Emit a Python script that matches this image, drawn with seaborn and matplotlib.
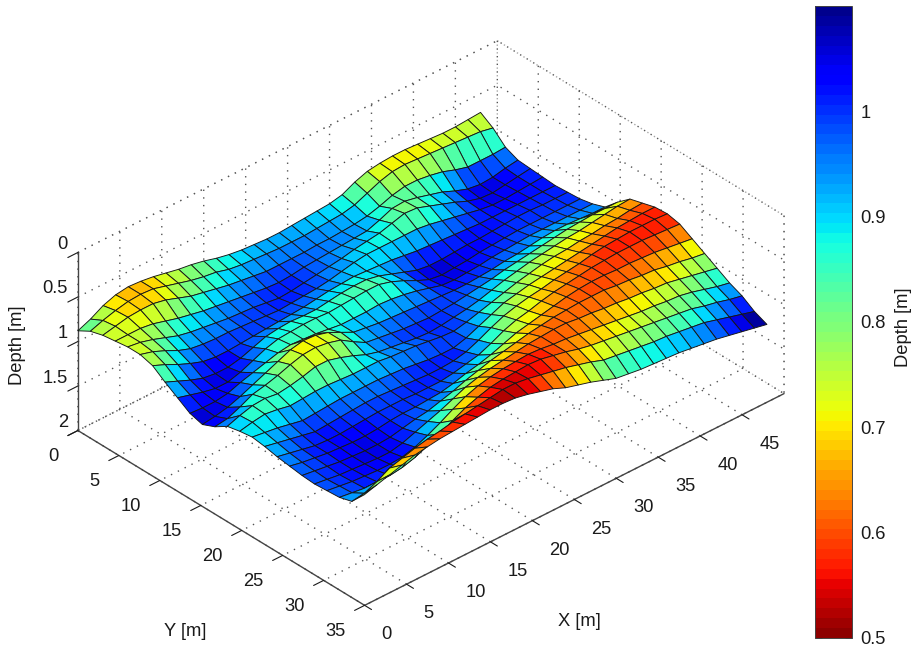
import numpy as np
import seaborn as sns
import matplotlib
matplotlib.use("Agg")
import matplotlib.pyplot as plt
from matplotlib.colors import ListedColormap, Normalize

sns.set_theme(style="white")
plt.rcParams['font.family'] = ['Liberation Sans', 'DejaVu Sans']

x_nodes = [i * 1.5 for i in range(33)]
y_nodes = [i * 1.52 for i in range(24)]
x_ticks = [0, 5, 10, 15, 20, 25, 30, 35, 40, 45]
y_ticks = [0, 5, 10, 15, 20, 25, 30, 35]
z_ticks = [0, 0.5, 1, 1.5, 2]
z_labels = ['0', '0.5', '1', '1.5', '2']
cbar_ticks = [0.5, 0.6, 0.7, 0.8, 0.9, 1.0]
cbar_labels = ['0.5', '0.6', '0.7', '0.8', '0.9', '1']

depth = [
 [.88,.82,.74,.69,.67,.68,.70,.73,.76,.78,.81,.85,.88,.90,.91,.92,.92,.91,.90,.89,.88,.85,.78,.73,.71,.70,.70,.71,.72,.73,.73,.72,.71],
 [.80,.75,.71,.68,.67,.68,.72,.76,.80,.83,.85,.89,.91,.92,.93,.94,.94,.94,.93,.92,.91,.88,.82,.76,.72,.71,.72,.73,.74,.75,.76,.77,.80],
 [.76,.73,.70,.69,.69,.72,.77,.82,.85,.88,.91,.93,.95,.97,.97,.97,.97,.96,.96,.95,.94,.92,.88,.83,.80,.80,.82,.85,.90,.94,.94,.94,.93],
 [.74,.74,.74,.76,.80,.84,.87,.90,.92,.94,.96,.98,1.00,1.01,1.00,.98,.97,.96,.95,.94,.93,.88,.82,.81,.84,.88,.92,.98,1.03,1.05,1.04,1.01,.99],
 [.72,.74,.78,.83,.88,.91,.93,.95,.97,.98,.99,1.01,1.03,1.02,1.00,.98,.96,.94,.91,.89,.87,.83,.79,.80,.85,.90,.95,1.01,1.05,1.06,1.04,1.02,1.00],
 [.72,.76,.82,.89,.94,.96,.97,.97,.98,.99,1.00,1.01,1.00,.99,.98,.96,.93,.90,.88,.88,.88,.88,.88,.90,.93,.96,.99,1.02,1.04,1.04,1.03,1.02,1.01],
 [.76,.82,.89,.95,1.00,1.02,1.02,1.01,1.00,.99,.98,.97,.96,.94,.92,.91,.90,.91,.92,.93,.95,.97,.98,.99,1.00,1.01,1.02,1.02,1.02,1.02,1.02,1.02,1.02],
 [.86,.92,.98,1.03,1.05,1.05,1.02,.97,.92,.90,.89,.90,.90,.88,.86,.85,.85,.88,.93,.98,1.03,1.05,1.05,1.04,1.03,1.03,1.02,1.01,1.00,1.00,1.01,1.01,1.01],
 [.95,.99,1.03,1.06,1.06,1.02,.96,.90,.86,.85,.84,.84,.85,.84,.83,.82,.82,.86,.92,.99,1.05,1.07,1.06,1.05,1.03,1.02,1.01,1.00,1.00,1.00,1.00,1.00,1.00],
 [1.04,1.05,1.05,1.03,.98,.94,.90,.86,.84,.85,.86,.88,.90,.90,.90,.89,.90,.92,.95,.99,1.03,1.04,1.03,1.02,1.00,.99,.98,.97,.97,.97,.97,.97,.97],
 [1.08,1.06,1.03,.98,.92,.86,.80,.74,.71,.72,.76,.83,.90,.92,.94,.95,.96,.97,.98,.99,1.00,1.00,.99,.98,.96,.95,.93,.91,.90,.90,.91,.92,.92],
 [1.02,1.00,.94,.87,.84,.80,.75,.71,.70,.72,.76,.85,.93,.95,.97,.99,1.00,1.01,1.00,.99,.97,.95,.93,.90,.88,.86,.84,.82,.80,.79,.78,.78,.78],
 [.93,.88,.84,.83,.85,.83,.80,.76,.76,.80,.85,.91,.95,.97,.99,1.01,1.02,1.01,.99,.97,.94,.90,.86,.83,.80,.78,.76,.74,.73,.71,.69,.67,.66],
 [.90,.87,.85,.87,.90,.89,.88,.88,.89,.90,.90,.90,.92,.93,.94,.96,.98,.99,.96,.92,.88,.84,.80,.77,.74,.72,.71,.69,.68,.66,.65,.63,.62],
 [.88,.90,.92,.95,.98,.97,.96,.95,.95,.95,.95,.96,.97,.99,1.01,1.02,1.02,.98,.92,.86,.80,.77,.74,.72,.70,.68,.66,.64,.62,.60,.59,.58,.58],
 [.90,.93,.96,.99,1.02,1.01,1.00,.99,.98,.98,.99,1.00,1.01,1.02,1.02,1.01,.98,.92,.85,.79,.75,.72,.70,.67,.65,.63,.60,.58,.57,.56,.56,.56,.57],
 [.93,.96,.99,1.02,1.03,1.03,1.02,1.01,1.00,1.00,1.00,1.01,1.01,1.01,.99,.96,.93,.87,.80,.75,.72,.68,.65,.63,.61,.59,.58,.57,.57,.57,.58,.59,.60],
 [.95,.98,1.00,1.02,1.03,1.04,1.04,1.03,1.01,1.00,1.00,.99,.98,.95,.91,.88,.84,.79,.74,.71,.68,.65,.62,.60,.59,.59,.60,.60,.61,.62,.64,.66,.68],
 [.97,.99,1.01,1.03,1.04,1.05,1.05,1.04,1.01,.98,.96,.92,.88,.83,.79,.75,.72,.69,.66,.64,.62,.61,.60,.60,.60,.62,.63,.65,.66,.69,.71,.74,.76],
 [.98,1.00,1.02,1.03,1.04,1.05,1.05,1.02,.97,.92,.87,.81,.75,.71,.68,.66,.64,.62,.61,.60,.60,.62,.63,.65,.66,.68,.69,.71,.72,.75,.78,.81,.84],
 [.97,.99,1.01,1.02,1.03,1.03,1.02,.98,.92,.85,.77,.70,.65,.62,.60,.59,.58,.59,.61,.62,.64,.66,.68,.70,.72,.74,.75,.77,.78,.81,.85,.89,.92],
 [.96,.98,1.00,1.00,1.00,.98,.94,.88,.82,.74,.67,.62,.58,.56,.55,.54,.55,.58,.61,.65,.68,.70,.72,.74,.76,.78,.80,.82,.84,.88,.91,.95,.98],
 [.92,.90,.84,.76,.72,.68,.65,.63,.60,.58,.56,.54,.52,.52,.54,.57,.60,.63,.67,.71,.76,.78,.80,.82,.84,.85,.87,.89,.91,.95,.99,1.03,1.07],
 [.76,.72,.68,.64,.60,.58,.56,.55,.54,.53,.52,.52,.53,.56,.60,.64,.70,.74,.78,.83,.88,.90,.92,.93,.94,.95,.97,.99,1.01,1.04,1.07,1.10,1.13],
]

W, H = 912, 647
FS = 13.2
TXT = '#1a1a1a'
fig = plt.figure(figsize=(W / 100, H / 100), dpi=100, facecolor='white')
size = 760
ax = fig.add_axes([40.7 / W, -66.3 / H, size / W, size / H], projection='3d',
                  proj_type='ortho', computed_zorder=True)
ax.set_facecolor('none')
ax.view_init(elev=33.7, azim=-132.3)
ax.set_box_aspect((567, 426, 214), zoom=719.2 / size)

cmap = ListedColormap(sns.color_palette("jet_r", 64))
norm = Normalize(0.5, 1.1)
XX, YY = np.meshgrid(x_nodes, y_nodes)
ZZ = np.array(depth)
surf = ax.plot_surface(XX, YY, ZZ, rstride=1, cstride=1, cmap=cmap, norm=norm,
                       edgecolor='#151515', linewidth=0.65, shade=False, antialiased=True)

ax.set_xlim(0, 50)
ax.set_ylim(35, 0)
ax.set_zlim(2, 0)
ax.set_xticks(x_ticks)
ax.set_yticks(y_ticks)
ax.set_zticks(z_ticks)
ax.set_zticklabels(z_labels)
ax.tick_params(labelsize=FS, colors=TXT)
ax.tick_params(axis='x', pad=9)
ax.tick_params(axis='y', pad=5)
ax.tick_params(axis='z', pad=-4)
for t in ax.xaxis.get_ticklabels():
    t.set_ha('left')
for t in ax.yaxis.get_ticklabels():
    t.set_ha('right')
for t in ax.zaxis.get_ticklabels():
    t.set_va('bottom')
    t.set_ha('right')

dots = (0, (1, 4.5))
for axis in (ax.xaxis, ax.yaxis, ax.zaxis):
    axis.pane.set_facecolor((1, 1, 1, 0))
    axis.pane.set_edgecolor('#555555')
    axis.pane.set_linestyle(dots)
    axis.pane.set_linewidth(1.0)
    axis.line.set_color('#444444')
    axis.line.set_linewidth(1.0)
    axis._axinfo['grid'].update(color='#555555', linestyle=dots, linewidth=1.0)
    axis._axinfo['tick'].update(inward_factor=0.3, outward_factor=0.0,
                                linewidth={True: 0.8, False: 0.5})
ax.grid(True)

fig.text(579 / W, 1 - 622 / H, 'X [m]', ha='center', va='center', fontsize=FS, color=TXT)
fig.text(185 / W, 1 - 631 / H, 'Y [m]', ha='center', va='center', fontsize=FS, color=TXT)
fig.text(18 / W, 1 - 345 / H, 'Depth [m]', ha='center', va='center', rotation=90, fontsize=FS, color=TXT)

cax = fig.add_axes([815 / W, 1 - 638 / H, 37 / W, 632 / H])
cb = fig.colorbar(surf, cax=cax, ticks=cbar_ticks)
cb.ax.set_yticklabels(cbar_labels)
cb.ax.tick_params(axis='y', left=True, right=True, direction='in', length=5, width=0.7,
                  labelsize=FS, colors=TXT, pad=6)
cb.outline.set_linewidth(0.7)
cb.outline.set_edgecolor('#444444')
fig.text(904 / W, 1 - 327 / H, 'Depth [m]', ha='center', va='center', rotation=90, fontsize=FS, color=TXT)

fig.savefig('out.png', dpi=100)
